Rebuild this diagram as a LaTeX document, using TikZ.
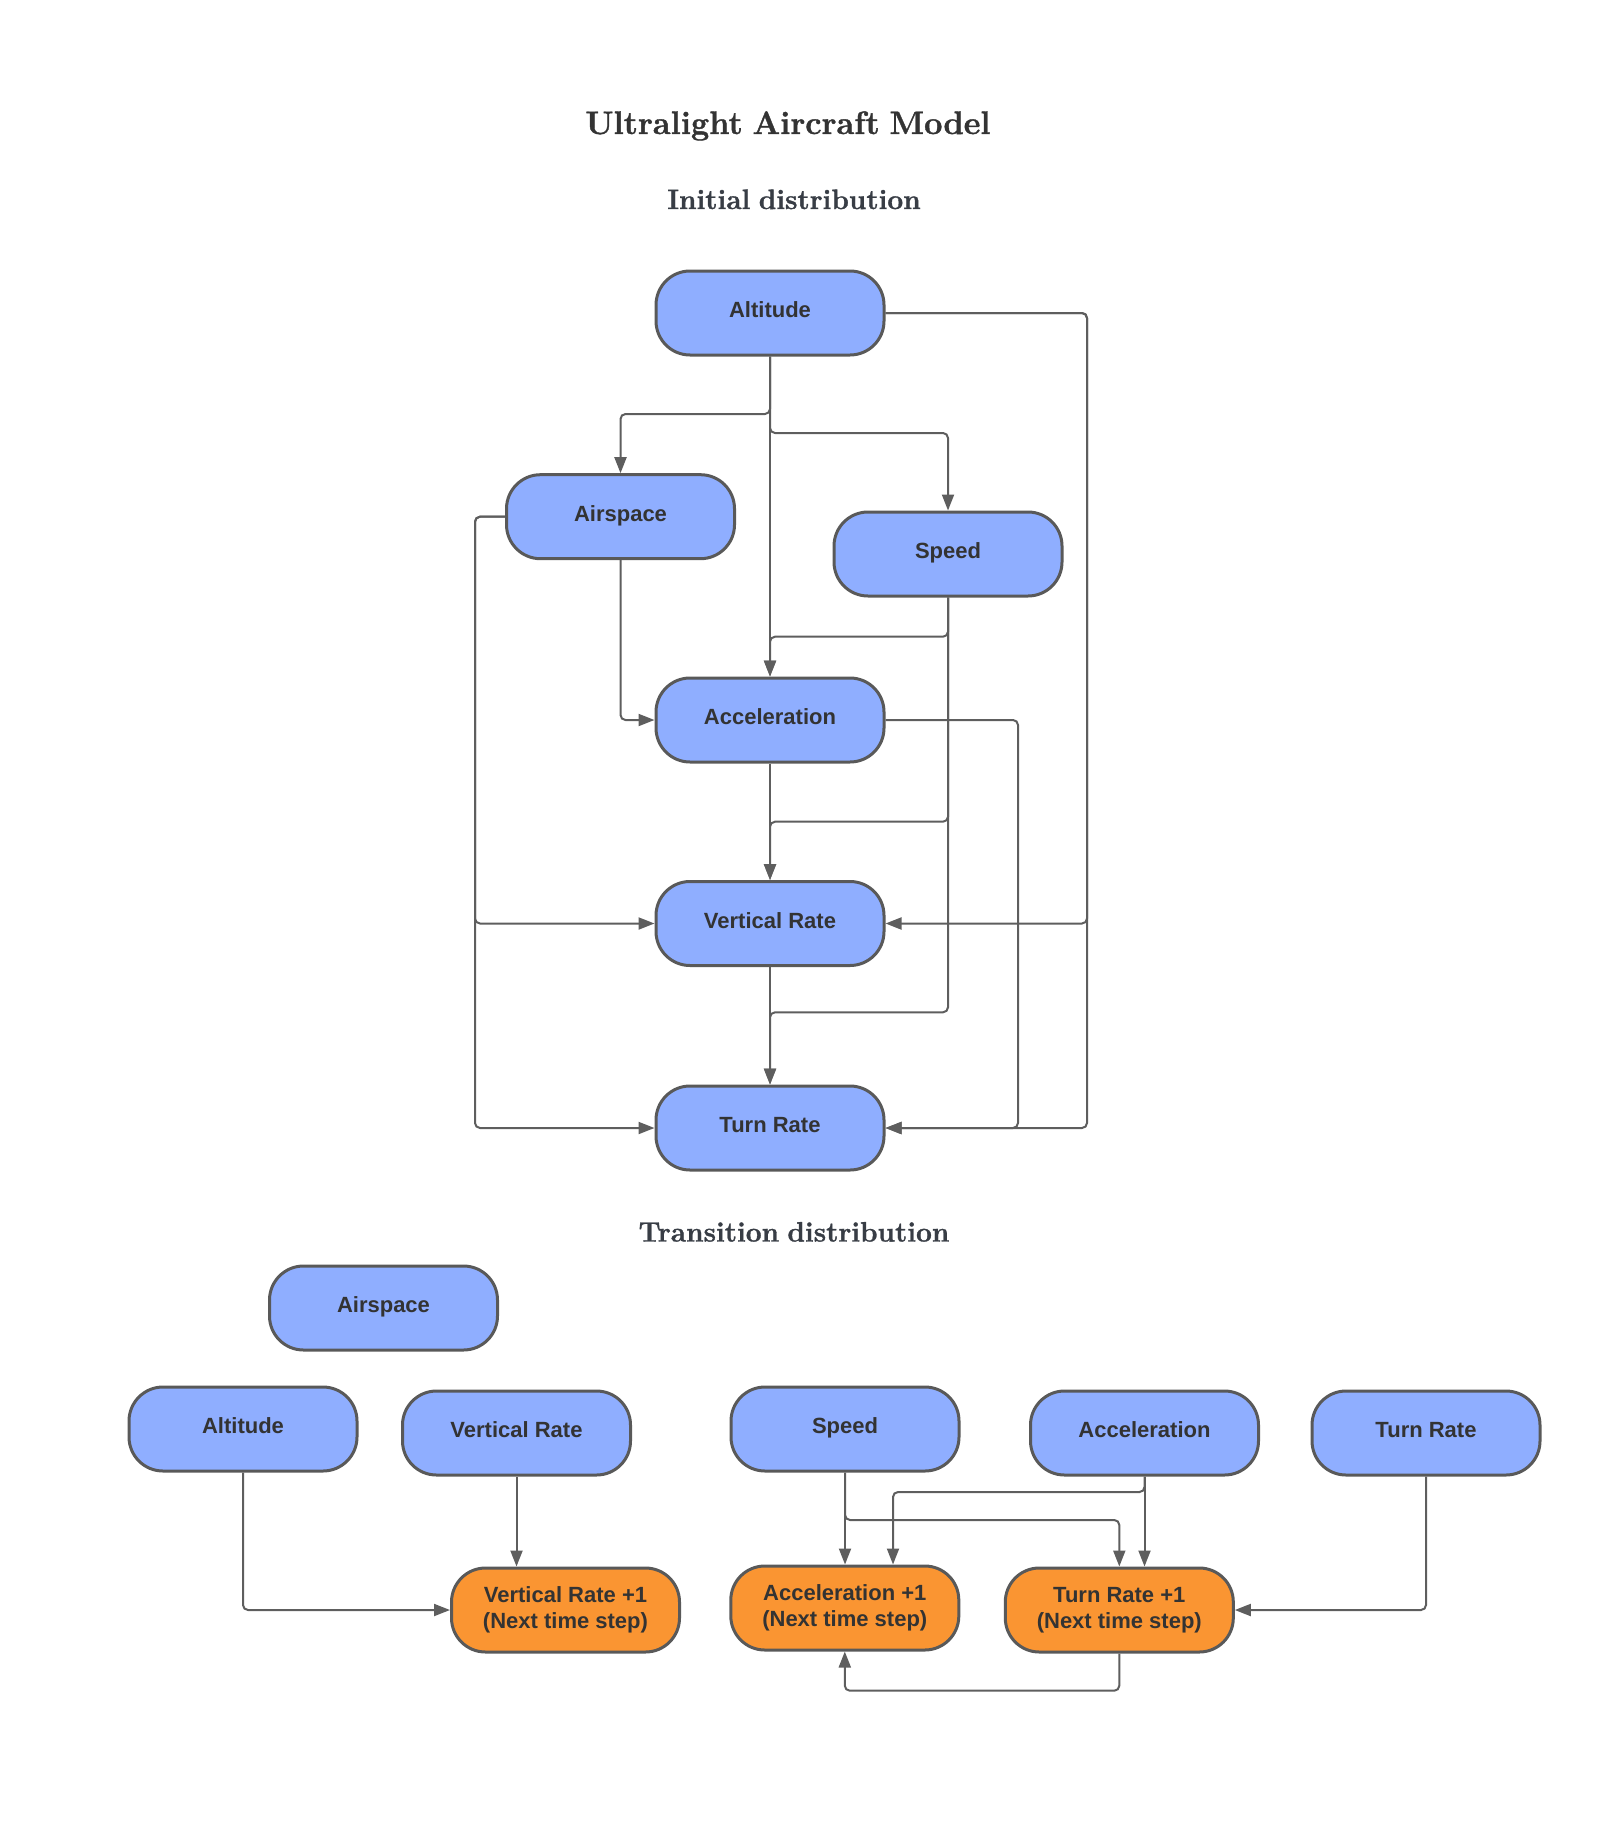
\documentclass[tikz,border=0pt]{standalone}
\usepackage{fontspec}
\newfontfamily\nodefont{Liberation Sans}
\newfontfamily\headfont[FakeBold=1.2,WordSpace=0.8]{Latin Modern Roman}
\usetikzlibrary{arrows.meta}
\definecolor{nodeblue}{HTML}{8FAEFF}
\definecolor{nodeorange}{HTML}{FA9532}
\definecolor{bordergray}{HTML}{595959}
\definecolor{linegray}{HTML}{5E5E5E}
\definecolor{textdark}{HTML}{333333}
\definecolor{titledark}{HTML}{383D45}
\begin{document}
\begin{tikzpicture}[x=1pt,y=-1pt,
  box/.style={draw=bordergray, line width=3pt, rounded corners=34pt,
    minimum width=228pt, minimum height=84pt, inner sep=0pt,
    font=\nodefont\bfseries\fontsize{22}{26.5}\selectfont, text=textdark},
  bluebox/.style={box, fill=nodeblue, text height=16pt, text depth=7pt},
  orangebox/.style={box, fill=nodeorange, align=center},
  conn/.style={draw=linegray, line width=2pt, rounded corners=5pt,
    -{Triangle[length=16pt,width=12pt]}},
  titletext/.style={anchor=base, text=textdark, font=\headfont\bfseries\fontsize{32.5}{38}\selectfont},
  subtitletext/.style={anchor=base, text=titledark, font=\headfont\bfseries\fontsize{28}{34}\selectfont}
]
\useasboundingbox (0,0) rectangle (1622,1838);

% titles
\node[titletext] (title) at (788,134) {Ultralight Aircraft Model};
\node[subtitletext] (sub1) at (794,209) {Initial distribution};
\node[subtitletext] (sub2) at (794,1241.5) {Transition distribution};

% initial distribution nodes
\node[bluebox] (alt) at (770,313) {Altitude};
\node[bluebox] (airsp) at (620.5,516.7) {Airspace};
\node[bluebox] (speed) at (948,554) {Speed};
\node[bluebox] (acc) at (770,720) {Acceleration};
\node[bluebox] (vr) at (770,923.5) {Vertical Rate};
\node[bluebox] (tr) at (770,1128) {Turn Rate};

% helper coordinates
\coordinate (hA) at (0,414);
\coordinate (hS) at (0,433);
\coordinate (hSA) at (0,636.7);
\coordinate (hSV) at (0,821.7);
\coordinate (hST) at (0,1012.3);
\coordinate (xL) at (475,0);
\coordinate (xRa) at (1018,0);
\coordinate (xRb) at (1087,0);

% initial distribution connectors
\draw[conn] (alt.south) -- (alt.south |- hA) -| (airsp.north);
\draw[conn] (alt.south) -- (alt.south |- hS) -| (speed.north);
\draw[conn] (alt.south) -- (acc.north);
\draw[conn] (alt.east) -| (xRb |- vr.east) -- (vr.east);
\draw[conn] (alt.east) -| (xRb |- tr.east) -- (tr.east);
\draw[conn] (airsp.south) |- (acc.west);
\draw[conn] (airsp.west) -| (xL |- vr.west) -- (vr.west);
\draw[conn] (airsp.west) -| (xL |- tr.west) -- (tr.west);
\draw[conn] (speed.south) -- (speed.south |- hSA) -| (acc.north);
\draw[conn] (speed.south) -- (speed.south |- hSV) -| (vr.north);
\draw[conn] (speed.south) -- (speed.south |- hST) -| (tr.north);
\draw[conn] (acc.south) -- (vr.north);
\draw[conn] (acc.east) -| (xRa |- tr.east) -- (tr.east);
\draw[conn] (vr.south) -- (tr.north);

% transition distribution nodes
\node[bluebox] (airspB) at (383.5,1308) {Airspace};
\node[bluebox] (altB) at (243,1429) {Altitude};
\node[bluebox] (vrB) at (516.5,1433) {Vertical Rate};
\node[bluebox] (spdB) at (845,1429) {Speed};
\node[bluebox] (accB) at (1144.5,1433) {Acceleration};
\node[bluebox] (trB) at (1426,1433) {Turn Rate};
\node[orangebox] (vrN) at (565.5,1610) {Vertical Rate +1\\(Next time step)};
\node[orangebox] (accN) at (844.8,1608) {Acceleration +1\\(Next time step)};
\node[orangebox] (trN) at (1119.3,1610) {Turn Rate +1\\(Next time step)};

\coordinate (hB1) at (0,1492);
\coordinate (hB2) at (0,1520);
\coordinate (hB3) at (0,1690.7);
\coordinate (xB) at (893,0);

% transition distribution connectors
\draw[conn] (altB.south) |- (vrN.west);
\draw[conn] (vrB.south) -- (vrB.south |- vrN.north);
\draw[conn] (spdB.south) -- (spdB.south |- accN.north);
\draw[conn] (spdB.south) -- (spdB.south |- hB2) -| (trN.north);
\draw[conn] (accB.south) -- (accB.south |- trN.north);
\draw[conn] (accB.south) -- (accB.south |- hB1) -| (xB |- accN.north);
\draw[conn] (trB.south) |- (trN.east);
\draw[conn] (trN.south) -- (trN.south |- hB3) -| (accN.south);
\end{tikzpicture}
\end{document}
